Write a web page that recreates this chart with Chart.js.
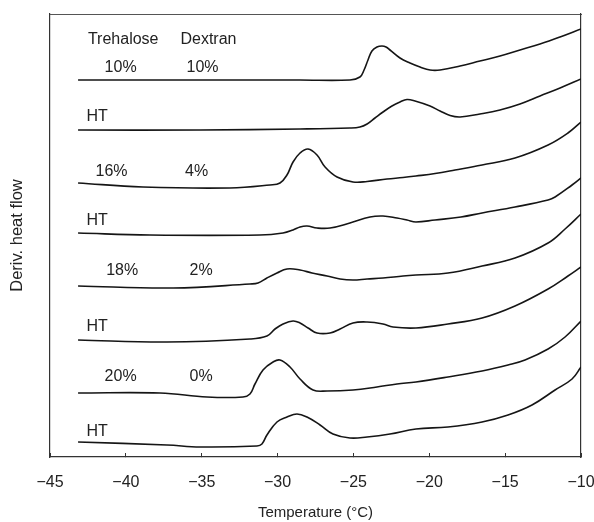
<!DOCTYPE html>
<html>
<head>
<meta charset="utf-8">
<script src="https://cdn.jsdelivr.net/npm/chart.js@4.4.1/dist/chart.umd.min.js"></script>
<style>
  html, body { margin: 0; padding: 0; background: #fff; }
  canvas { display: block; }
</style>
</head>
<body>
<canvas id="c" width="594" height="522"></canvas>
<script>
// Temperature ticks (°C)
const xTicks = [-45, -40, -35, -30, -25, -20, -15, -10];

// Curve 1: Trehalose 10% / Dextran 10%
const t1 = [-43.15, -35.11, -28.52, -25.23, -24.57, -24.30, -24.04, -23.78, -23.45, -23.12, -22.85, -22.59, -21.93, -21.27, -20.61, -19.95, -19.29, -17.97, -16.66, -15.34, -14.02, -12.70, -11.38, -10];
const v1 = [377, 377, 377, 377, 380, 387, 397, 406, 410, 411, 410, 407, 399, 394, 390, 387, 387, 391, 396, 401, 407, 413, 420, 428];

// Curve 2: HT (10% / 10%)
const t2 = [-43.15, -35.11, -28.52, -25.23, -24.57, -24.10, -23.58, -23.05, -22.46, -21.93, -21.47, -20.94, -19.95, -19.29, -18.63, -17.97, -16.66, -15.34, -14.02, -12.70, -11.38, -10];
const v2 = [327, 327, 328, 329, 330, 333, 339, 345, 351, 355, 357.5, 356, 351, 346, 341.5, 340, 343, 347, 353, 361, 369, 378];

// Curve 3: 16% / 4%
const t3 = [-43.15, -38.87, -33.14, -30.50, -29.84, -29.38, -28.98, -28.52, -27.99, -27.40, -26.87, -26.08, -25.03, -24.10, -22.79, -21.73, -20.88, -19.62, -18.30, -16.52, -14.35, -12.17, -10.86, -10];
const v3 = [274, 270, 269, 272, 274, 282, 295, 304, 308, 302, 290, 280, 275, 275.5, 278, 279.5, 281, 283.5, 287, 292, 299, 312, 324, 335];

// Curve 4: HT (16% / 4%)
const t4 = [-43.15, -38.41, -31.16, -29.64, -28.98, -28.52, -28.06, -27.40, -26.54, -25.23, -23.91, -23.05, -22.13, -21.47, -20.88, -19.62, -17.91, -16.52, -14.35, -12.17, -11.71, -10.59, -10];
const v4 = [224, 222, 222, 224, 227, 230, 231, 229, 229, 234, 240, 241, 239, 237, 235, 237, 240, 244, 250, 257, 260, 272, 279];

// Curve 5: 18% / 2%
const t5 = [-43.15, -36.89, -31.82, -31.29, -30.70, -30.04, -29.38, -28.52, -27.73, -26.74, -25.88, -25.03, -24.10, -23.05, -21.73, -20.88, -18.77, -16.52, -14.35, -12.17, -11.05, -10];
const v5 = [171, 169, 173, 174, 179, 184, 188, 187, 184, 181, 178, 177, 178, 179, 181, 182, 184, 191, 199, 214, 228, 243];

// Curve 6: HT (18% / 2%)
const t6 = [-43.15, -37.29, -31.82, -30.70, -30.17, -29.64, -28.98, -28.52, -27.99, -27.40, -26.54, -25.88, -25.03, -24.10, -23.05, -22.39, -20.88, -18.77, -16.52, -14.35, -12.17, -10.86, -10];
const v6 = [117, 115, 118, 121, 128, 133, 136, 134, 129, 124, 124, 128, 134, 135, 133, 130, 129, 133, 139, 151, 168, 181, 190];

// Curve 7: 20% / 0%
const t7 = [-43.15, -37.75, -34.65, -32.28, -31.82, -31.49, -30.96, -30.30, -29.84, -29.18, -28.52, -27.66, -26.74, -25.03, -23.45, -22.13, -20.88, -18.77, -16.52, -14.81, -13.69, -12.17, -11.05, -10];
const v7 = [64, 64, 60, 60, 63, 73, 87, 95, 97, 90, 78, 67, 66, 67, 70, 73, 75, 80, 86, 92, 97, 108, 120, 136];

// Curve 8: HT (20% / 0%)
const t8 = [-43.15, -37.29, -35.11, -31.36, -31.03, -30.70, -30.04, -29.38, -28.72, -28.06, -27.20, -26.35, -25.23, -24.10, -22.59, -20.88, -18.77, -16.52, -14.81, -13.23, -11.71, -10.59, -10];
const v8 = [15, 12, 10, 11, 13, 22, 35, 40, 43, 40, 32, 23, 19, 20, 23, 28, 30, 35, 42, 52, 67, 78, 90];

// Text annotations (anchored in data coordinates)
const labelText = ['Trehalose', 'Dextran', '10%', '10%', 'HT', '16%', '4%', 'HT', '18%', '2%', 'HT', '20%', '0%', 'HT'];
const labelTemp = [-42.5, -36.4, -41.4, -36.0, -42.6, -42.0, -36.1, -42.6, -41.3, -35.8, -42.6, -41.4, -35.8, -42.6];
const labelFlow = [417, 417, 389, 389, 340, 285, 285, 236, 186, 186, 130, 80, 80, 25];

const temps = [t1, t2, t3, t4, t5, t6, t7, t8];
const flows = [v1, v2, v3, v4, v5, v6, v7, v8];

const FONT = '"Liberation Sans", Arial, Helvetica, sans-serif';

const textLabels = {
  id: 'textLabels',
  afterDatasetsDraw(chart) {
    const { ctx, scales: { x, y } } = chart;
    ctx.save();
    ctx.font = '16px ' + FONT;
    ctx.fillStyle = '#222';
    ctx.textAlign = 'left';
    ctx.textBaseline = 'middle';
    labelText.forEach((t, i) => {
      ctx.fillText(t, x.getPixelForValue(labelTemp[i]), y.getPixelForValue(labelFlow[i]));
    });
    ctx.restore();
  }
};

const datasets = temps.map((tt, k) => ({
  data: tt.map((t, i) => ({ x: t, y: flows[k][i] })),
  borderColor: '#151515',
  borderWidth: 1.6,
  pointRadius: 0,
  fill: false,
  tension: 0.4,
  xAxisID: 'x',
  yAxisID: 'y'
}));

new Chart(document.getElementById('c'), {
  type: 'line',
  data: { datasets },
  options: {
    responsive: false,
    animation: false,
    devicePixelRatio: 1,
    layout: { padding: { left: 0, right: 13, top: 14, bottom: 0 } },
    plugins: { legend: { display: false }, tooltip: { enabled: false } },
    scales: {
      x: {
        type: 'linear',
        position: 'bottom',
        min: -45, max: -10,
        afterBuildTicks: s => { s.ticks = xTicks.map(v => ({ value: v })); },
        afterFit: s => { s.height = 65; s.paddingLeft = 0; s.paddingRight = 0; },
        ticks: {
          color: '#222',
          font: { family: FONT, size: 16 },
          padding: 20,
          maxRotation: 0,
          callback: v => String(v).replace('-', '\u2212')
        },
        grid: { display: true, drawOnChartArea: false, drawTicks: true, tickLength: -4, color: '#333', lineWidth: 1 },
        border: { display: true, color: '#333', width: 1.2 },
        title: {
          display: true,
          text: 'Temperature (°C)',
          color: '#222',
          font: { family: FONT, size: 15 },
          padding: { top: 0, bottom: 0 }
        }
      },
      y: {
        type: 'linear',
        position: 'left',
        min: 0, max: 443,
        afterFit: s => { s.width = 50; },
        ticks: { display: false },
        grid: { display: false, drawTicks: false },
        border: { display: true, color: '#333', width: 1.2 },
        title: {
          display: true,
          text: 'Deriv. heat flow',
          color: '#222',
          font: { family: FONT, size: 16.5 },
          padding: { top: 8, bottom: 0 }
        }
      },
      xTop: {
        type: 'linear',
        position: 'top',
        min: -45, max: -10,
        afterFit: s => { s.height = 0; s.paddingLeft = 0; s.paddingRight = 0; },
        ticks: { display: false },
        grid: { display: false, drawTicks: false },
        border: { display: true, color: '#555', width: 1 }
      },
      yRight: {
        type: 'linear',
        position: 'right',
        min: 0, max: 443,
        afterFit: s => { s.width = 0; },
        ticks: { display: false },
        grid: { display: false, drawTicks: false },
        border: { display: true, color: '#333', width: 1.2 }
      }
    }
  },
  plugins: [textLabels]
});
</script>
</body>
</html>
